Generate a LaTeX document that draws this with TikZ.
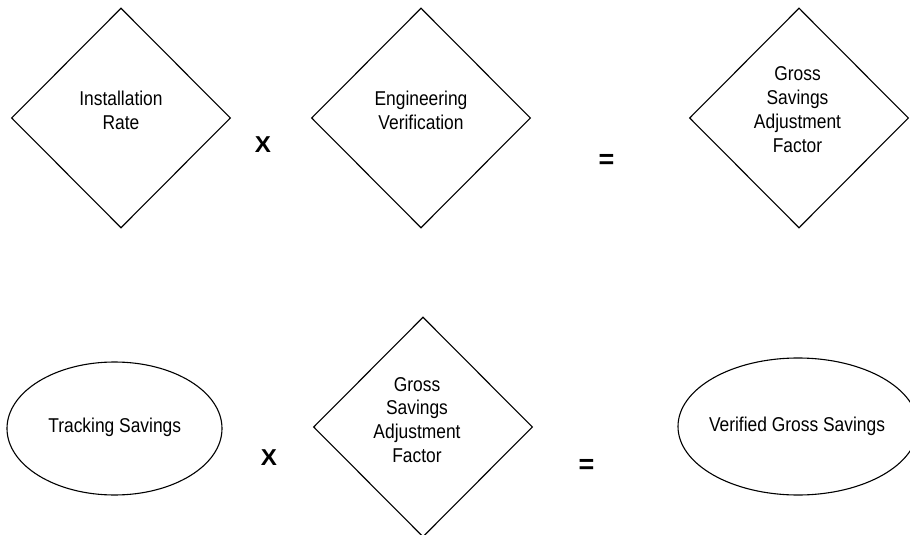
\documentclass[tikz,border=0pt]{standalone}
\usepackage{fontspec}
\newfontfamily\lblfont{Liberation Sans}[FakeStretch=0.87]
\newfontfamily\opfont{Liberation Sans}
\usetikzlibrary{shapes.geometric}
\tikzset{
  dia/.style={draw=black, line width=1.1bp, diamond, aspect=1, inner sep=0pt,
              minimum width=219bp, minimum height=220bp},
  ell/.style={draw=black, line width=1.1bp, ellipse, inner sep=0pt},
  lbl/.style={inner sep=0pt, align=center, font=\lblfont\fontsize{20bp}{23.8bp}\selectfont},
  opx/.style={inner sep=0pt, xscale=1.05, font=\opfont\bfseries\fontsize{23bp}{26bp}\selectfont},
  opeq/.style={inner sep=0pt, font=\opfont\bfseries\fontsize{27bp}{30bp}\selectfont}
}
\begin{document}
\begin{tikzpicture}[x=1bp, y=-1bp]
\useasboundingbox (0,0) rectangle (910,535);
% top row
\node[dia] (d1) at (121,118) {};
\node[lbl] (t1) at (121,110.3) {Installation\\Rate};
\node[opx] (x1) at (263,145) {X};
\node[dia] (d2) at (421,118) {};
\node[lbl] (t2) at (421,110.3) {Engineering\\Verification};
\node[opeq] (e1) at (606.5,161) {=};
\node[dia] (d3) at (799,118) {};
\node[lbl] (t3) at (797.5,109.8) {Gross\\Savings\\Adjustment\\Factor};
% bottom row
\node[ell, minimum width=215bp, minimum height=133bp] (o1) at (114.5,428.5) {};
\node[lbl, anchor=base] (t4) at (114.7,432) {Tracking Savings};
\node[opx] (x2) at (269,458) {X};
\node[dia] (d4) at (423,427) {};
\node[lbl] (t5) at (417,420) {Gross\\Savings\\Adjustment\\Factor};
\node[opeq] (e2) at (586.5,466) {=};
\node[ell, minimum width=240bp, minimum height=137bp] (o2) at (798,426.5) {};
\node[lbl, anchor=base] (t6) at (797,431) {Verified Gross Savings};
\end{tikzpicture}
\end{document}
